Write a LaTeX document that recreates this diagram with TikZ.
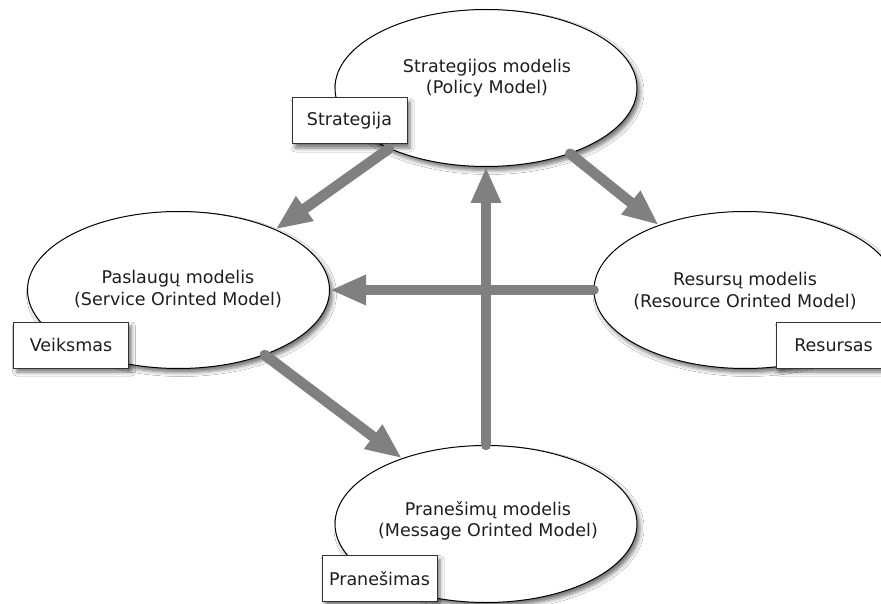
\documentclass[tikz,border=0pt]{standalone}
\usepackage{fontspec}
\setmainfont{DejaVu Sans}
\usetikzlibrary{shapes.geometric,arrows.meta,shadows.blur}
\definecolor{flowgray}{HTML}{808080}
\definecolor{inkgray}{HTML}{1E1E1E}

\begin{document}
\begin{tikzpicture}[x=1pt,y=-1pt,
  softshadow/.style={blur shadow={shadow xshift=3pt, shadow yshift=-4pt,
      shadow blur radius=4pt, shadow opacity=55}},
  model/.style={ellipse, draw=black, line width=1pt, fill=white,
      minimum width=302pt, minimum height=157pt, inner sep=0pt, softshadow},
  tag/.style={rectangle, draw=black!80, line width=1pt, fill=white,
      minimum width=115pt, minimum height=46pt, inner sep=0pt, softshadow,
      text=inkgray, font=\fontsize{17.5}{21}\selectfont},
  caption/.style={align=center, inner sep=0pt, text=inkgray,
      font=\fontsize{17.5}{21.5}\selectfont},
  flow/.style={draw=flowgray, line width=10.5pt, line cap=round,
      -{Triangle[length=36pt,width=28pt]}}
]
\clip (0,0) rectangle (881,604);
\fill[white] (0,0) rectangle (881,604);

% the four models
\node[model] (pol) at (486,88) {};
\node[caption] (pol-t) at (487,78) {Strategijos modelis\\(Policy Model)};
\node[model] (svc) at (178.5,290) {};
\node[caption] (svc-t) at (178,289) {Paslaugų modelis\\(Service Orinted Model)};
\node[model] (res) at (745,290) {};
\node[caption] (res-t) at (745,291) {Resursų modelis\\(Resource Orinted Model)};
\node[model] (msg) at (486,524) {};
\node[caption] (msg-t) at (488,521) {Pranešimų modelis\\(Message Orinted Model)};

% the element each model is built around
\node[tag] (pol-tag) at (349.5,121) {Strategija};
\node[tag] (svc-tag) at (71,345) {Veiksmas};
\node[tag] (res-tag) at (833.5,345) {Resursas};
\node[tag] (msg-tag) at (379.5,578.5) {Pranešimas};

% relations between the models
\draw[flow] (pol.212.6) -- (svc.32.7);
\draw[flow] (pol.-38) -- (res.143.3);
\draw[flow] (res.west) -- (svc.east);
\draw[flow] (msg.north) -- (pol.south);
\draw[flow] (svc.-37) -- (msg.142.7);
\end{tikzpicture}
\end{document}
